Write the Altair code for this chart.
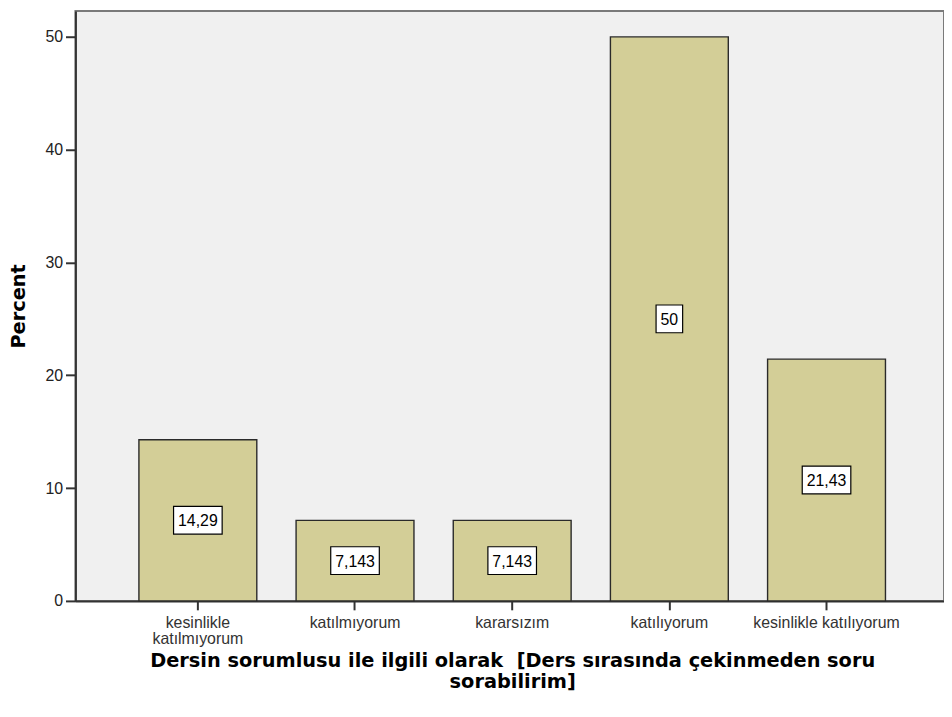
import altair as alt
import pandas as pd

categories = ["kesinlikle katılmıyorum", "katılmıyorum", "kararsızım", "katılıyorum", "kesinlikle katılıyorum"]
percents = [14.29, 7.143, 7.143, 50.0, 21.43]
value_labels = ["14,29", "7,143", "7,143", "50", "21,43"]
y_ticks = [0, 10, 20, 30, 40, 50]
x_title = ["Dersin sorumlusu ile ilgili olarak \u00a0[Ders sırasında çekinmeden soru", "sorabilirim]"]
y_title = "Percent"

df = pd.DataFrame({"cat": categories, "pct": percents, "lbl": value_labels})

LABEL_SIZE = 16


def box_path(text):
    w = sum(0.556 if c.isdigit() else 0.278 for c in text) * LABEL_SIZE + 9
    h = 28
    return f"M{-w/2:.1f},{-h/2:.1f}H{w/2:.1f}V{h/2:.1f}H{-w/2:.1f}Z"


uniq = list(dict.fromkeys(value_labels))
paths = [box_path(t) for t in uniq]

x_axis = alt.Axis(
    title=x_title,
    labelAngle=0,
    labelExpr="datum.value == 'kesinlikle katılmıyorum' ? split(datum.value, ' ') : datum.value",
)
y_axis = alt.Axis(title=y_title, values=y_ticks, grid=False)

x_scale = alt.Scale(range=[0, 881], paddingInner=0.25, paddingOuter=0.404)
y_scale = alt.Scale(domain=[0, 52.3], nice=False, zero=True)

base = alt.Chart(df)

bars = base.mark_bar(fill="#D3CE97", stroke="#2a2a2a", strokeWidth=1.4).encode(
    x=alt.X("cat:N", sort=categories, scale=x_scale, axis=x_axis),
    y=alt.Y("pct:Q", scale=y_scale, axis=y_axis),
)

boxes = base.transform_calculate(mid="datum.pct / 2").mark_point(
    filled=True, fill="white", stroke="black", strokeWidth=1.2, size=4, opacity=1
).encode(
    x=alt.X("cat:N", sort=categories, scale=x_scale, axis=x_axis),
    y=alt.Y("mid:Q", scale=y_scale, axis=y_axis),
    shape=alt.Shape("lbl:N", scale=alt.Scale(domain=uniq, range=paths), legend=None),
)

texts = base.transform_calculate(mid="datum.pct / 2").mark_text(
    font="Liberation Sans", fontSize=LABEL_SIZE, color="black", baseline="middle", align="center", dy=1
).encode(
    x=alt.X("cat:N", sort=categories, scale=x_scale, axis=x_axis),
    y=alt.Y("mid:Q", scale=y_scale, axis=y_axis),
    text="lbl:N",
)

chart = (
    alt.layer(bars, boxes, texts)
    .properties(
        width=876,
        height=595,
        autosize=alt.AutoSizeParams(type="none"),
        padding={"left": 68, "top": 0, "right": 0, "bottom": 100},
        background="white",
    )
    .configure_view(fill="#F0F0F0", stroke="#7a7a7a", strokeWidth=2)
    .configure_axis(
        domainColor="#333333",
        domainWidth=2,
        tickColor="#333333",
        tickWidth=2,
        labelFont="Liberation Sans",
        labelColor="#222222",
        titleFont="DejaVu Sans",
        titleFontWeight="bold",
        titleFontSize=19.5,
        titleColor="black",
    )
    .configure_axisX(
        tickSize=9,
        labelFontSize=16,
        labelColor="#333333",
        labelPadding=5,
        labelLineHeight=16,
        titleLineHeight=21,
        titlePadding=5,
    )
    .configure_axisY(
        tickSize=10,
        labelFontSize=16,
        labelPadding=3,
        titlePadding=17,
    )
)

chart.save("out.html", embed_options={"renderer": "svg", "actions": False})
